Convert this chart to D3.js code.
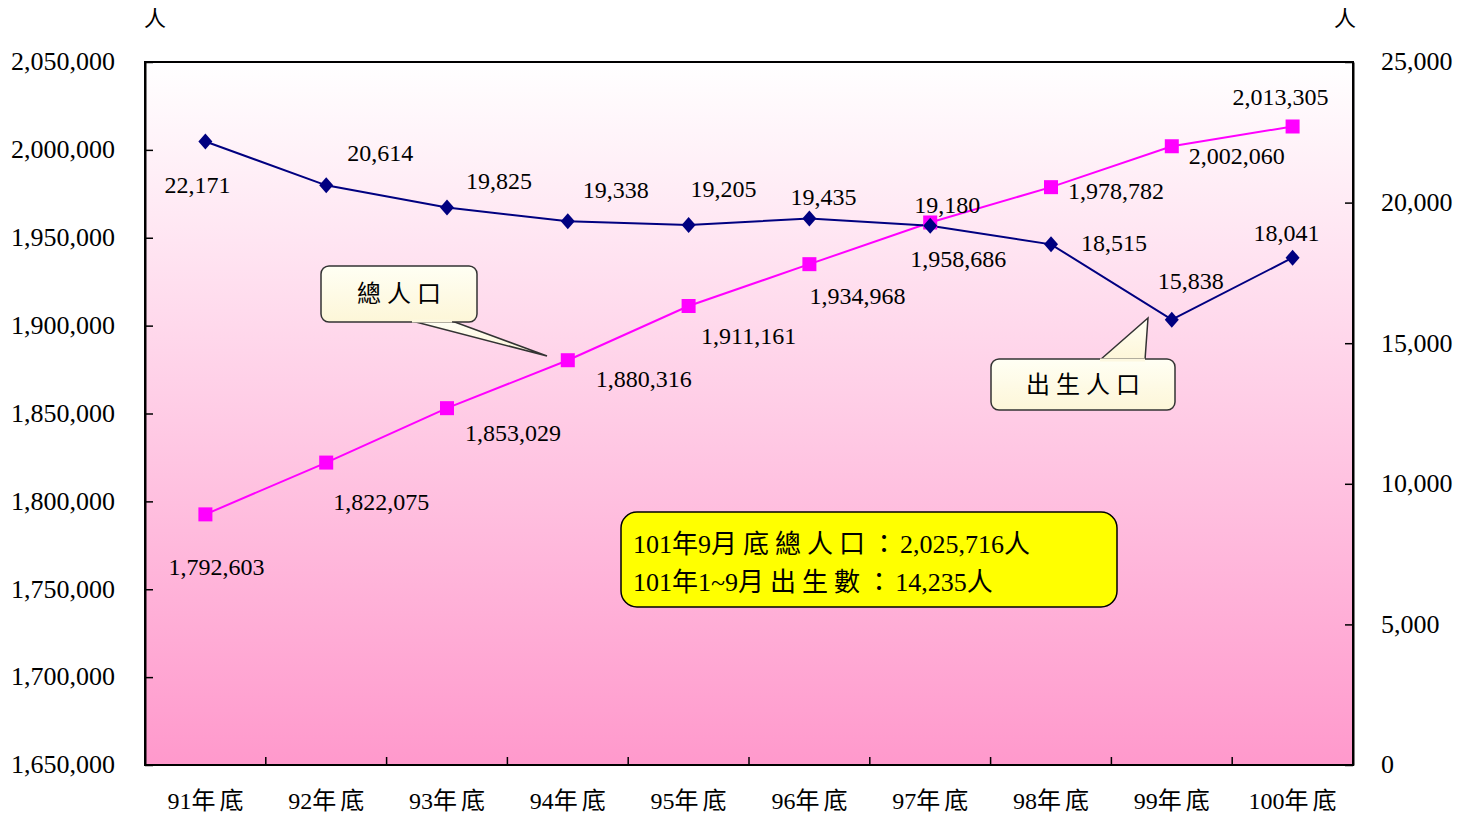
<!DOCTYPE html>
<html>
<head>
<meta charset="utf-8">
<script src="https://cdn.jsdelivr.net/npm/d3@7"></script>
<style>
  body { margin: 0; background: #fff; }
  svg text { font-family: "Liberation Serif", "Noto Sans CJK TC", serif; fill: #000; }
</style>
</head>
<body>
<svg id="chart"></svg>
<script>
const years = ["91年底", "92年底", "93年底", "94年底", "95年底", "96年底", "97年底", "98年底", "99年底", "100年底"];
const totalPop = [1792603, 1822075, 1853029, 1880316, 1911161, 1934968, 1958686, 1978782, 2002060, 2013305];
const births = [22171, 20614, 19825, 19338, 19205, 19435, 19180, 18515, 15838, 18041];
const leftTicks = [1650000, 1700000, 1750000, 1800000, 1850000, 1900000, 1950000, 2000000, 2050000];
const rightTicks = [0, 5000, 10000, 15000, 20000, 25000];
const noteLines = ["101年9月底總人口：2,025,716人", "101年1~9月出生數：14,235人"];

// label offsets from each point (dx, dy to text centre)
const popLabelOff = [[11,52],[55,39],[66,24],[76,18],[60,30],[48,31],[28,36],[65,3],[65,9],[-12,-30]];
const birthLabelOff = [[-8,43],[54,-33],[52,-27],[48,-32],[35,-36],[14,-22],[17,-21],[63,-2],[19,-39],[-6,-25]];

const width = 1472, height = 818;
const m = {left: 145, right: 1353, top: 62, bottom: 765};
const fmt = d3.format(",");
const cjk = /[\u3000-\u9fff\uff00-\uffef]/;

// spread the CJK runs a little, like the original typesetting (no gap after a run's last char)
function cjkText(sel, str, spacing) {
  sel.text(null);
  str.split(/([\u3000-\u9fff\uff00-\uffef]+)/).filter(s => s.length).forEach(part => {
    if (cjk.test(part) && part.length > 1) {
      let last = part.slice(-1);
      sel.append("tspan").style("letter-spacing", spacing + "px").text(part.slice(0, -1));
      let t = sel.append("tspan").text(last);
      // full-width colon: leave a little room after it
      if (last === "：") t.style("letter-spacing", (spacing / 2) + "px");
    } else {
      sel.append("tspan").text(part);
    }
  });
}

let svg = d3.select("#chart")
            .attr("width", width)
            .attr("height", height);

let defs = svg.append("defs");
let grad = defs.append("linearGradient")
               .attr("id", "bg").attr("x1", 0).attr("y1", 0).attr("x2", 0).attr("y2", 1);
grad.append("stop").attr("offset", "0%").attr("stop-color", "#ffffff");
grad.append("stop").attr("offset", "100%").attr("stop-color", "#ff99cc");

let cream = defs.append("linearGradient")
               .attr("id", "cream").attr("x1", 0).attr("y1", 0).attr("x2", 0).attr("y2", 1);
cream.append("stop").attr("offset", "0%").attr("stop-color", "#fffff4");
cream.append("stop").attr("offset", "100%").attr("stop-color", "#fdf6d8");

let x = d3.scaleBand().domain(years).range([m.left, m.right]);
let yL = d3.scaleLinear().domain([1650000, 2050000]).range([m.bottom, m.top]);
let yR = d3.scaleLinear().domain([0, 25000]).range([m.bottom, m.top]);

svg.append("rect")
   .attr("x", m.left).attr("y", m.top)
   .attr("width", m.right - m.left).attr("height", m.bottom - m.top)
   .attr("fill", "url(#bg)")
   .attr("stroke", "#000").attr("stroke-width", 2);

// axes
let leftAxis = svg.append("g")
   .attr("transform", `translate(${m.left},0)`)
   .call(d3.axisLeft(yL).tickValues(leftTicks).tickFormat(fmt).tickSizeInner(-8).tickSizeOuter(0).tickPadding(30));
let rightAxis = svg.append("g")
   .attr("transform", `translate(${m.right},0)`)
   .call(d3.axisRight(yR).tickValues(rightTicks).tickFormat(fmt).tickSizeInner(-8).tickSizeOuter(0).tickPadding(28));
let bottomAxis = svg.append("g")
   .attr("transform", `translate(0,${m.bottom})`)
   .call(d3.axisBottom(x).tickSize(0).tickPadding(27));

[leftAxis, rightAxis, bottomAxis].forEach(g => {
  g.select(".domain").attr("stroke", "#000").attr("stroke-width", 2);
  g.selectAll(".tick line").attr("stroke", "#000").attr("stroke-width", 1.5);
  g.selectAll("text").style("font-size", "26px").attr("fill", "#000");
});
bottomAxis.select(".domain").remove();
bottomAxis.selectAll(".tick text").style("font-size", "24px").each(function(d) { cjkText(d3.select(this), d, 4); });
leftAxis.selectAll(".tick text").attr("dy", "0.3em");
rightAxis.selectAll(".tick text").attr("dy", "0.3em");

// category separators on bottom axis
svg.append("g")
   .selectAll("line")
   .data(years.slice(1))
   .enter()
   .append("line")
     .attr("x1", d => x(d)).attr("x2", d => x(d))
     .attr("y1", m.bottom).attr("y2", m.bottom - 8)
     .attr("stroke", "#000").attr("stroke-width", 1.5);

// unit labels
svg.append("text").attr("x", 155).attr("y", 26).attr("text-anchor", "middle").style("font-size", "22px").text("人");
svg.append("text").attr("x", 1345).attr("y", 26).attr("text-anchor", "middle").style("font-size", "22px").text("人");

let cx = (d, i) => x(years[i]) + x.bandwidth() / 2;

// total population line
svg.append("path")
   .datum(totalPop)
   .attr("fill", "none").attr("stroke", "#ff00ff").attr("stroke-width", 2)
   .attr("d", d3.line().x(cx).y(d => yL(d)));

// births line
svg.append("path")
   .datum(births)
   .attr("fill", "none").attr("stroke", "#000080").attr("stroke-width", 2)
   .attr("d", d3.line().x(cx).y(d => yR(d)));

svg.append("g")
   .selectAll("rect")
   .data(totalPop)
   .enter()
   .append("rect")
     .attr("x", (d, i) => cx(d, i) - 7)
     .attr("y", d => yL(d) - 7)
     .attr("width", 14).attr("height", 14)
     .attr("fill", "#ff00ff");

svg.append("g")
   .selectAll("path")
   .data(births)
   .enter()
   .append("path")
     .attr("transform", (d, i) => `translate(${cx(d, i)},${yR(d)})`)
     .attr("d", "M0,-8L7,0L0,8L-7,0Z")
     .attr("fill", "#000080");

// data labels
svg.append("g")
   .selectAll("text")
   .data(totalPop)
   .enter()
   .append("text")
     .attr("x", (d, i) => cx(d, i) + popLabelOff[i][0])
     .attr("y", (d, i) => yL(d) + popLabelOff[i][1])
     .attr("dy", "0.35em")
     .attr("text-anchor", "middle")
     .style("font-size", "24px")
     .text(fmt);

svg.append("g")
   .selectAll("text")
   .data(births)
   .enter()
   .append("text")
     .attr("x", (d, i) => cx(d, i) + birthLabelOff[i][0])
     .attr("y", (d, i) => yR(d) + birthLabelOff[i][1])
     .attr("dy", "0.35em")
     .attr("text-anchor", "middle")
     .style("font-size", "24px")
     .text(fmt);

// callouts
function callout(bx, by, bw, bh, tail, label) {
  let g = svg.append("g");
  g.append("path")
   .attr("d", `M${tail[0][0]},${tail[0][1]}L${tail[1][0]},${tail[1][1]}L${tail[2][0]},${tail[2][1]}Z`)
   .attr("fill", "url(#cream)").attr("stroke", "#333").attr("stroke-width", 1.5);
  g.append("rect")
   .attr("x", bx).attr("y", by).attr("width", bw).attr("height", bh)
   .attr("rx", 8)
   .attr("fill", "url(#cream)").attr("stroke", "#333").attr("stroke-width", 1.5);
  g.append("path")
   .attr("d", `M${tail[0][0]},${tail[0][1]}L${tail[2][0]},${tail[2][1]}`)
   .attr("stroke", "#fdf8e0").attr("stroke-width", 3);
  g.append("text")
   .attr("x", bx + bw / 2 + 3).attr("y", by + bh / 2)
   .attr("dy", "0.35em")
   .attr("text-anchor", "middle")
   .style("font-size", "24px")
   .style("letter-spacing", "6px")
   .text(label);
}
callout(321, 266, 156, 56, [[412, 321], [547, 356], [452, 321]], "總人口");
callout(991, 359, 184, 51, [[1100, 360], [1148, 318], [1145, 360]], "出生人口");

// note box
let note = svg.append("g");
note.append("rect")
    .attr("x", 621).attr("y", 512).attr("width", 496).attr("height", 95)
    .attr("rx", 16)
    .attr("fill", "#ffff00").attr("stroke", "#000").attr("stroke-width", 1.5);
note.selectAll("text")
    .data(noteLines)
    .enter()
    .append("text")
      .attr("x", 633)
      .attr("y", (d, i) => 553 + i * 38)
      .style("font-size", "26px")
      .each(function(d) { cjkText(d3.select(this), d, 6); });
</script>
</body>
</html>
